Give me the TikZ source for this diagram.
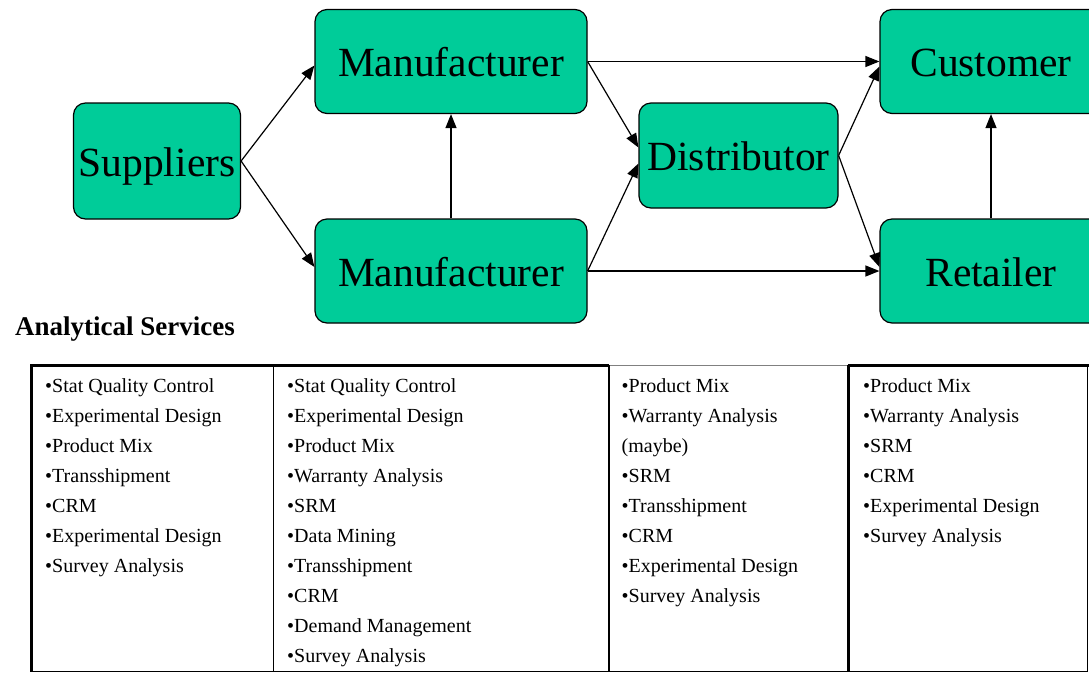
\documentclass[tikz,border=0pt]{standalone}
\usepackage{fontspec}
\setmainfont{Liberation Serif}
\usetikzlibrary{arrows.meta}
\definecolor{boxgreen}{RGB}{0,204,153}
\tikzset{
  stage/.style={draw=black, line width=1.2pt, fill=boxgreen, rounded corners=12pt, inner sep=0pt, text height=30pt, text depth=0pt, font=\fontsize{41.5}{50}\selectfont},
  flow/.style={line width=1.2pt, -{Triangle[length=14pt,width=11pt]}},
  item/.style={anchor=base west, inner sep=0pt, font=\fontsize{20}{24}\selectfont}
}
\begin{document}
\begin{tikzpicture}[x=1pt,y=-1pt]
\useasboundingbox (0,0) rectangle (1089,673);
\clip (0,0) rectangle (1089,673);
% supply chain
\node[stage, minimum width=167pt, minimum height=116pt] (sup) at (157,161) {Suppliers};
\node[stage, minimum width=272pt, minimum height=104pt] (manA) at (451,61.5) {Manufacturer};
\node[stage, minimum width=272pt, minimum height=104pt] (manB) at (451,271) {Manufacturer};
\node[stage, minimum width=199pt, minimum height=105pt] (dist) at (738.5,155.5) {Distributor};
\node[stage, minimum width=222pt, minimum height=104pt] (cust) at (991,61.5) {Customer};
\node[stage, minimum width=222pt, minimum height=104pt] (ret) at (991,271) {Retailer};
\draw[flow] (sup.east) -- ([yshift=-4pt]manA.west);
\draw[flow] (sup.east) -- ([yshift=4pt]manB.west);
\draw[flow] (manB.north) -- (manA.south);
\draw[flow] (manA.east) -- (cust.west);
\draw[flow] (manA.east) -- ([yshift=8pt]dist.west);
\draw[flow] (manB.east) -- ([yshift=-8pt]dist.west);
\draw[flow] (manB.east) -- (ret.west);
\draw[flow] (dist.east) -- ([yshift=-5pt]cust.west);
\draw[flow] (dist.east) -- ([yshift=4pt]ret.west);
\draw[flow] (ret.north) -- (cust.south);
% services table
\node[anchor=base west, inner sep=0pt, font=\bfseries\fontsize{27}{32}\selectfont] (title) at (15,335.5) {Analytical Services};
\draw[line width=3pt] (31.5,671.5) -- (31.5,365) -- (609,365);
\draw[line width=3pt] (848,365) -- (1089,365);
\draw[gray, line width=1.5pt] (609,365.5) -- (848,365.5);
\draw[line width=1.5pt] (31.5,671.5) -- (1087.5,671.5) -- (1087.5,365);
\draw[line width=1.2pt] (273.3,365) -- (273.3,671.5);
\draw[line width=2pt] (609.3,365) -- (609.3,671.5);
\draw[line width=2.5pt] (848.3,365) -- (848.3,671.5);
\foreach \txt [count=\i from 0] in {•Stat Quality Control,•Experimental Design,•Product Mix,•Transshipment,•CRM,•Experimental Design,•Survey Analysis}
  \node[item] (colA-\i) at (45,{392+30.1*\i}) {\txt};
\foreach \txt [count=\i from 0] in {•Stat Quality Control,•Experimental Design,•Product Mix,•Warranty Analysis,•SRM,•Data Mining,•Transshipment,•CRM,•Demand Management,•Survey Analysis}
  \node[item] (colB-\i) at (287,{392+30.1*\i}) {\txt};
\foreach \txt [count=\i from 0] in {•Product Mix,•Warranty Analysis,(maybe),•SRM,•Transshipment,•CRM,•Experimental Design,•Survey Analysis}
  \node[item] (colC-\i) at (621.5,{392+30.1*\i}) {\txt};
\foreach \txt [count=\i from 0] in {•Product Mix,•Warranty Analysis,•SRM,•CRM,•Experimental Design,•Survey Analysis}
  \node[item] (colD-\i) at (863,{392+30.1*\i}) {\txt};
\end{tikzpicture}
\end{document}
